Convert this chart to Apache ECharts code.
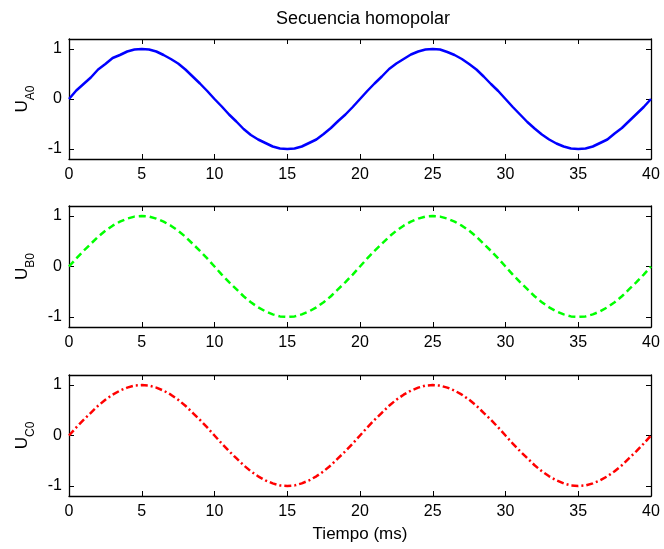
<!DOCTYPE html>
<html><head><meta charset="utf-8">
<script src="https://cdn.jsdelivr.net/npm/echarts@6/dist/echarts.min.js"></script>
<style>html,body{margin:0;padding:0;background:#fff}#c{width:664px;height:549px}</style>
</head><body><div id="c"></div>
<script>
var tiempo = [0,0.5,1,1.5,2,2.5,3,3.5,4,4.5,5,5.5,6,6.5,7,7.5,8,8.5,9,9.5,10,10.5,11,11.5,12,12.5,13,13.5,14,14.5,15,15.5,16,16.5,17,17.5,18,18.5,19,19.5,20,20.5,21,21.5,22,22.5,23,23.5,24,24.5,25,25.5,26,26.5,27,27.5,28,28.5,29,29.5,30,30.5,31,31.5,32,32.5,33,33.5,34,34.5,35,35.5,36,36.5,37,37.5,38,38.5,39,39.5,40];
var uA0 = [0,0.17,0.3,0.43,0.59,0.7,0.82,0.88,0.95,0.99,1,0.99,0.95,0.88,0.8,0.71,0.59,0.45,0.31,0.16,0,-0.15,-0.31,-0.45,-0.6,-0.72,-0.81,-0.88,-0.95,-0.99,-1,-0.99,-0.95,-0.88,-0.81,-0.7,-0.58,-0.44,-0.31,-0.16,0,0.16,0.31,0.45,0.6,0.71,0.8,0.89,0.95,0.99,1,0.99,0.94,0.88,0.8,0.7,0.59,0.45,0.3,0.16,0,-0.16,-0.31,-0.46,-0.59,-0.71,-0.81,-0.89,-0.95,-0.99,-1,-0.99,-0.95,-0.88,-0.81,-0.69,-0.58,-0.44,-0.3,-0.16,0];
var uB0 = [0,0.16,0.31,0.45,0.59,0.71,0.81,0.89,0.95,0.99,1,0.99,0.95,0.89,0.81,0.71,0.59,0.45,0.31,0.16,0,-0.16,-0.31,-0.45,-0.59,-0.71,-0.81,-0.89,-0.95,-0.99,-1,-0.99,-0.95,-0.89,-0.81,-0.71,-0.59,-0.45,-0.31,-0.16,0,0.16,0.31,0.45,0.59,0.71,0.81,0.89,0.95,0.99,1,0.99,0.95,0.89,0.81,0.71,0.59,0.45,0.31,0.16,0,-0.16,-0.31,-0.45,-0.59,-0.71,-0.81,-0.89,-0.95,-0.99,-1,-0.99,-0.95,-0.89,-0.81,-0.71,-0.59,-0.45,-0.31,-0.16,0];
var uC0 = [0,0.16,0.31,0.45,0.59,0.71,0.81,0.89,0.95,0.99,1,0.99,0.95,0.89,0.81,0.71,0.59,0.45,0.31,0.16,0,-0.16,-0.31,-0.45,-0.59,-0.71,-0.81,-0.89,-0.95,-0.99,-1,-0.99,-0.95,-0.89,-0.81,-0.71,-0.59,-0.45,-0.31,-0.16,0,0.16,0.31,0.45,0.59,0.71,0.81,0.89,0.95,0.99,1,0.99,0.95,0.89,0.81,0.71,0.59,0.45,0.31,0.16,0,-0.16,-0.31,-0.45,-0.59,-0.71,-0.81,-0.89,-0.95,-0.99,-1,-0.99,-0.95,-0.89,-0.81,-0.71,-0.59,-0.45,-0.31,-0.16,0];
var yTicks = [-1,0,1];
var yNames = ['A0','B0','C0'];
var titleText = 'Secuencia homopolar';
var xLabel = 'Tiempo (ms)';

var FONT = '"Liberation Sans", Arial, sans-serif';
var grids = [
  {left:69, top:39, width:582, height:120},
  {left:69, top:206, width:582, height:121},
  {left:69, top:375, width:582, height:121}
];
var xAxes = [], yAxes = [];
grids.forEach(function(g, i){
  var lineStyle = {color:'#000', width:1.3};
  xAxes.push({type:'value', gridIndex:i, min:0, max:40, interval:5, position:'bottom',
    axisLine:{show:true, onZero:false, lineStyle:lineStyle},
    axisTick:{show:true, inside:true, length:5, lineStyle:{color:'#000'}},
    axisLabel:{show:true, color:'#000', fontSize:16, fontFamily:FONT, margin:8},
    splitLine:{show:false},
    name: i===2 ? xLabel : '', nameLocation:'middle', nameGap:30,
    nameTextStyle:{color:'#000', fontSize:17, fontFamily:FONT}});
  xAxes.push({type:'value', gridIndex:i, min:0, max:40, interval:5, position:'top',
    axisLine:{show:true, onZero:false, lineStyle:lineStyle},
    axisTick:{show:true, inside:true, length:5, lineStyle:{color:'#000'}},
    axisLabel:{show:false}, splitLine:{show:false}});
  yAxes.push({type:'value', gridIndex:i, min:-1.2, max:1.2, position:'left',
    axisLine:{show:true, onZero:false, lineStyle:lineStyle},
    axisTick:{show:true, inside:true, length:5, customValues:yTicks, lineStyle:{color:'#000'}},
    axisLabel:{show:true, customValues:yTicks, color:'#000', fontSize:16, fontFamily:FONT, margin:7},
    splitLine:{show:false},
    name:'{u|U}{s|' + yNames[i] + '}', nameLocation:'middle', nameGap:37, nameRotate:90,
    nameTextStyle:{color:'#000', fontFamily:FONT,
      rich:{u:{fontSize:17, fontFamily:FONT, color:'#000', verticalAlign:'bottom', lineHeight:22},
            s:{fontSize:12, fontFamily:FONT, color:'#000', verticalAlign:'bottom', lineHeight:22, padding:[0,0,-6,0]}}}});
  yAxes.push({type:'value', gridIndex:i, min:-1.2, max:1.2, position:'right',
    axisLine:{show:true, onZero:false, lineStyle:lineStyle},
    axisTick:{show:true, inside:true, length:5, customValues:yTicks, lineStyle:{color:'#000'}},
    axisLabel:{show:false}, splitLine:{show:false}});
});
function pairs(ys){ return tiempo.map(function(t,k){ return [t, ys[k]]; }); }
var chart = echarts.init(document.getElementById('c'), null, {renderer:'canvas'});
chart.setOption({
  animation:false,
  backgroundColor:'#fff',
  title:{text:titleText, left:363, top:10, textAlign:'center', padding:0,
    textStyle:{color:'#000', fontSize:18, fontWeight:'normal', fontFamily:FONT}},
  grid:grids,
  xAxis:xAxes,
  yAxis:yAxes,
  series:[
    {type:'line', xAxisIndex:0, yAxisIndex:0, data:pairs(uA0), showSymbol:false,
      lineStyle:{color:'#0000ff', width:2.5, type:'solid'}},
    {type:'line', xAxisIndex:2, yAxisIndex:2, data:pairs(uB0), showSymbol:false,
      lineStyle:{color:'#00ff00', width:2.5, type:[7,4]}},
    {type:'line', xAxisIndex:4, yAxisIndex:4, data:pairs(uC0), showSymbol:false,
      lineStyle:{color:'#ff0000', width:2.5, type:[7,3,2,3]}}
  ]
});
</script></body></html>
